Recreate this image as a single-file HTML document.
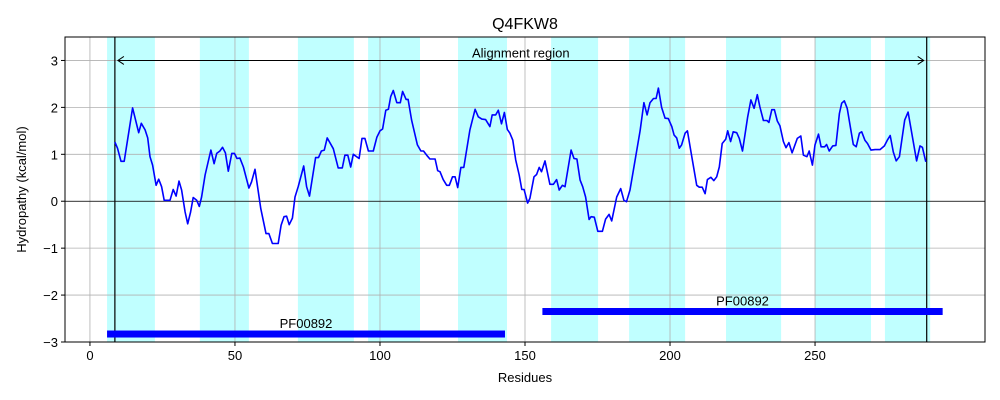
<!DOCTYPE html>
<html><head><meta charset="utf-8"><style>
body{margin:0;background:#fff;}
svg{display:block;font-family:"Liberation Sans","DejaVu Sans",sans-serif;}
</style></head><body>
<svg id="chart" width="1000" height="400"></svg>
<script>
const residues=[8.6,9.5,10.7,11.8,14.7,16.8,17.7,19,19.9,20.7,21.6,22.8,23.7,24.7,25.6,27.6,28.7,29.7,30.7,31.6,32.8,33.7,34.7,35.6,36.8,37.7,38.5,39.7,41.7,42.8,43.7,44.8,45.7,46.7,47.7,48.9,49.8,50.7,51.7,52.9,54.8,55.7,56.9,58.9,60.7,61.7,62.9,64.9,65.9,66.9,67.8,68.7,69.8,70.7,71.8,73.7,74.7,75.7,77.8,78.8,79.8,80.8,81.8,83.9,85.6,87,87.9,88.9,89.9,90.8,92.8,93.8,94.8,96,97.7,98.9,100,100.9,102,102.9,103.7,104.6,105.8,107,107.8,109,109.7,110.9,112.9,114.1,115,116.4,117.2,119,119.9,120.7,121.8,123,123.9,125,125.9,126.8,127.9,128.9,131,132.8,133.9,135.1,136.4,137.9,138.7,139.9,140.8,141.9,142.9,143.9,144.8,145.8,146.8,148,148.9,149.7,150.9,151.7,153.1,154,154.9,155.7,156.9,158.6,159.8,160.9,161.8,162.9,163.8,165.9,166.9,167.9,169,169.9,170.9,172.1,172.8,173.9,175.1,176.7,177.8,179,179.9,181.6,183,184.1,185,186.2,188.3,189.7,191,192.1,193.1,194.3,195.2,196,197.1,198.3,199.4,200.6,201.4,202.3,203.2,204,205.2,206,207.5,209.2,210.1,211.1,212.1,212.9,214.1,215.1,216.1,217,218,219.2,219.9,220.9,221.8,223,223.9,225,226.8,227.9,229,230.1,231,232.2,233.4,234.1,235.1,236,237,237.9,239.1,240,241,242.1,243.9,245.1,246,247.2,248,249.1,250,251.2,252.1,253.3,254,254.9,256.1,257.2,258.4,259.2,260.1,261.1,263.2,264.2,265.3,266.1,267.2,268.1,269.3,270.7,272.4,273.9,274.9,275.9,277,278,279.1,280.9,282.1,285,286.2,287,288.2];
const hydropathy=[1.26,1.13,0.85,0.85,1.99,1.46,1.66,1.52,1.35,0.95,0.77,0.34,0.47,0.31,0.02,0.02,0.25,0.11,0.43,0.24,-0.23,-0.48,-0.23,0.08,0.02,-0.11,0.09,0.56,1.09,0.80,1.02,1.07,1.15,1.03,0.64,1.02,1.02,0.91,0.92,0.73,0.28,0.41,0.68,-0.16,-0.69,-0.69,-0.90,-0.90,-0.51,-0.33,-0.32,-0.50,-0.36,0.09,0.31,0.75,0.31,0.11,0.93,0.93,1.07,1.09,1.35,1.12,0.71,0.71,0.98,0.98,0.73,1.00,0.91,1.34,1.34,1.07,1.07,1.36,1.50,1.54,1.94,1.96,2.23,2.36,2.10,2.10,2.34,2.17,2.17,1.73,1.20,1.07,1.07,0.96,0.90,0.90,0.65,0.63,0.46,0.34,0.34,0.52,0.52,0.29,0.72,0.72,1.52,1.96,1.80,1.75,1.74,1.59,1.84,1.84,1.94,1.65,1.89,1.53,1.45,1.30,0.88,0.56,0.25,0.25,-0.04,0.06,0.52,0.57,0.72,0.63,0.86,0.36,0.36,0.46,0.24,0.34,0.31,1.09,0.91,0.90,0.45,0.31,0.09,-0.39,-0.33,-0.34,-0.64,-0.64,-0.38,-0.28,-0.42,0.09,0.27,0.02,-0.01,0.24,1.00,1.50,2.10,1.84,2.10,2.19,2.19,2.41,2.00,1.77,1.76,1.59,1.41,1.35,1.13,1.20,1.45,1.50,0.95,0.34,0.30,0.30,0.16,0.46,0.51,0.44,0.52,0.73,1.23,1.32,1.50,1.27,1.48,1.46,1.34,1.07,1.80,2.16,1.98,2.27,2.01,1.72,1.72,1.68,1.95,1.95,1.71,1.61,1.27,1.14,1.25,1.03,1.34,1.39,0.98,0.95,1.07,0.77,1.20,1.43,1.16,1.16,1.21,1.07,1.18,1.19,1.87,2.09,2.14,1.98,1.21,1.16,1.45,1.48,1.30,1.23,1.09,1.10,1.10,1.18,1.30,1.40,1.05,0.86,0.95,1.73,1.90,0.86,1.18,1.15,0.84];
const bandStarts=[5.9,37.9,71.7,95.9,126.9,159,185.9,219.3,250,274.1];
const bandEnds=[22.4,54.8,91,113.8,143.8,175.2,205.2,238.3,269.3,289.7];
const domainStarts=[5.9,156];
const domainEnds=[143.1,294];
const domainLevels=[-2.83,-2.35];
const domainLabels=["PF00892","PF00892"];
const alignStart=8.6, alignEnd=288.5;
const xTicks=[0,50,100,150,200,250];
const yTicks=[-3,-2,-1,0,1,2,3];

const L=65,R=985,T=37,B=342;
const xMin=-8.6,xMax=308.6,yMin=-3,yMax=3.5;
const X=v=>L+(v-xMin)/(xMax-xMin)*(R-L);
const Y=v=>B-(v-yMin)/(yMax-yMin)*(B-T);
const svg=document.getElementById('chart');
const NS='http://www.w3.org/2000/svg';
function mk(tag,attrs,parent){const e=document.createElementNS(NS,tag);for(const k in attrs)e.setAttribute(k,attrs[k]);(parent||svg).appendChild(e);return e;}

bandStarts.forEach((s,i)=>{
  const r=mk('rect',{x:X(s),y:T,width:X(bandEnds[i])-X(s),height:B-T,fill:'#c0ffff'});
  
  
});
xTicks.forEach(t=>{const l=mk('line',{x1:X(t),x2:X(t),y1:T,y2:B,stroke:'#b0b0b0','stroke-width':0.8});
  });
yTicks.forEach(t=>{const l=mk('line',{x1:L,x2:R,y1:Y(t),y2:Y(t),stroke:'#b0b0b0','stroke-width':0.8});
  });
const z=mk('line',{x1:L,x2:R,y1:Y(0),y2:Y(0),stroke:'#000','stroke-width':0.8});

[alignStart,alignEnd].forEach(a=>{const l=mk('line',{x1:X(a),x2:X(a),y1:T,y2:B,stroke:'#000','stroke-width':1.2});
  });
const ay=Y(3);
const ar=mk('g',{});

mk('line',{x1:X(alignStart)+3,x2:X(alignEnd)-3,y1:ay,y2:ay,stroke:'#000','stroke-width':1},ar);
mk('path',{d:`M${X(alignStart)+9},${ay-4} L${X(alignStart)+3},${ay} L${X(alignStart)+9},${ay+4}`,fill:'none',stroke:'#000','stroke-width':1},ar);
mk('path',{d:`M${X(alignEnd)-9},${ay-4} L${X(alignEnd)-3},${ay} L${X(alignEnd)-9},${ay+4}`,fill:'none',stroke:'#000','stroke-width':1},ar);
const at=mk('text',{x:(X(alignStart)+X(alignEnd))/2,y:ay-3,'text-anchor':'middle','font-size':13});
at.textContent='Alignment region';
domainStarts.forEach((s,i)=>{
  const r=mk('rect',{x:X(s),y:Y(domainLevels[i])-3.5,width:X(domainEnds[i])-X(s),height:7,fill:'#0000ff'});
  
  const t=mk('text',{x:(X(s)+X(domainEnds[i]))/2,y:Y(domainLevels[i])-6,'text-anchor':'middle','font-size':13});
  t.textContent=domainLabels[i];
});
const pts=residues.map((r,i)=>X(r).toFixed(1)+','+Y(hydropathy[i]).toFixed(1)).join(' ');
const pl=mk('polyline',{points:pts,fill:'none',stroke:'#0000ff','stroke-width':1.6,'stroke-linejoin':'round'});

const fr=mk('rect',{x:L,y:T,width:R-L,height:B-T,fill:'none',stroke:'#000','stroke-width':1});

xTicks.forEach(t=>{mk('line',{x1:X(t),x2:X(t),y1:B,y2:B+4,stroke:'#000'});
  const tx=mk('text',{x:X(t),y:B+18,'text-anchor':'middle','font-size':13});tx.textContent=t;
  });
yTicks.forEach(t=>{mk('line',{x1:L-4,x2:L,y1:Y(t),y2:Y(t),stroke:'#000'});
  const tx=mk('text',{x:L-7,y:Y(t)+5,'text-anchor':'end','font-size':13});tx.textContent=t<0?'\u2212'+(-t):t;
  });
const xt=mk('text',{x:(L+R)/2,y:382,'text-anchor':'middle','font-size':13});xt.textContent='Residues';

const yt=mk('text',{x:0,y:0,'text-anchor':'middle','font-size':13,transform:`translate(26,${(T+B)/2}) rotate(-90)`});yt.textContent='Hydropathy (kcal/mol)';

const ti=mk('text',{x:(L+R)/2,y:29,'text-anchor':'middle','font-size':16});ti.textContent='Q4FKW8';

</script>
</body></html>
